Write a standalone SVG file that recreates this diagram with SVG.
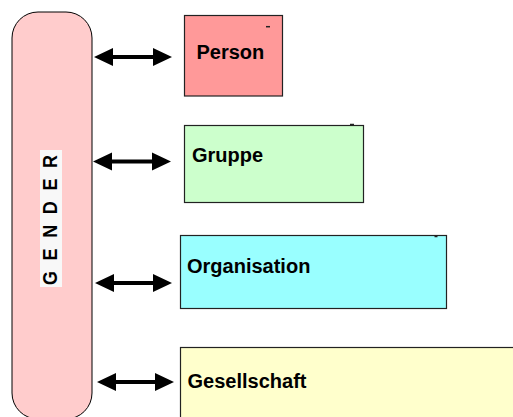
<svg xmlns="http://www.w3.org/2000/svg" width="513" height="417" viewBox="0 0 513 417">
<style>
.box{stroke:#222;stroke-width:1.2}
.lbl{font-family:"Liberation Sans",Arial,sans-serif;font-weight:bold;font-size:20px;fill:#000}
.arr{fill:#000}
.mark{stroke:#222;stroke-width:1.5}
</style>
<rect width="513" height="417" fill="#fff"/>
<g id="gender">
<rect x="12" y="12" width="80" height="407" rx="26" ry="26" fill="#ffcccc" stroke="#000" stroke-width="1"/>
<rect x="40" y="150" width="22" height="137" fill="#f8f8f8"/>
<text class="lbl" transform="translate(57,285) rotate(-90) scale(1,1.15)" x="0" y="0" style="font-size:18px" textLength="130" lengthAdjust="spacing">GENDER</text>
</g>
<g id="person">
<rect class="box" x="184.5" y="15.5" width="98" height="80.5" fill="#ff9999"/>
<line class="mark" x1="266" y1="26.7" x2="270" y2="26.7"/>
<text class="lbl" x="196.5" y="59">Person</text>
</g>
<g id="gruppe">
<rect class="box" x="184.5" y="125.5" width="179" height="77" fill="#ccffcc"/>
<line class="mark" x1="350" y1="124.5" x2="354" y2="124.5"/>
<text class="lbl" x="192" y="161.5">Gruppe</text>
</g>
<g id="organisation">
<rect class="box" x="180.5" y="235.5" width="266" height="73" fill="#99ffff"/>
<line class="mark" x1="434.5" y1="236.5" x2="437.5" y2="236.5"/>
<text class="lbl" x="187" y="273">Organisation</text>
</g>
<g id="gesellschaft">
<rect class="box" x="180.5" y="347.5" width="345" height="80" fill="#ffffcc"/>
<text class="lbl" x="187.5" y="388">Gesellschaft</text>
</g>
<g id="connectors">
<path class="arr" d="M94,57 L113,48 L113,55 L153,55 L153,48 L172,57 L153,66 L153,59 L113,59 L113,66 Z"/>
<path class="arr" d="M93,161.5 L112,152.5 L112,159.5 L152,159.5 L152,152.5 L171,161.5 L152,170.5 L152,163.5 L112,163.5 L112,170.5 Z"/>
<path class="arr" d="M95,283 L114,274 L114,281 L153,281 L153,274 L172,283 L153,292 L153,285 L114,285 L114,292 Z"/>
<path class="arr" d="M97,382 L116,373 L116,380 L155,380 L155,373 L174,382 L155,391 L155,384 L116,384 L116,391 Z"/>
</g>
</svg>
